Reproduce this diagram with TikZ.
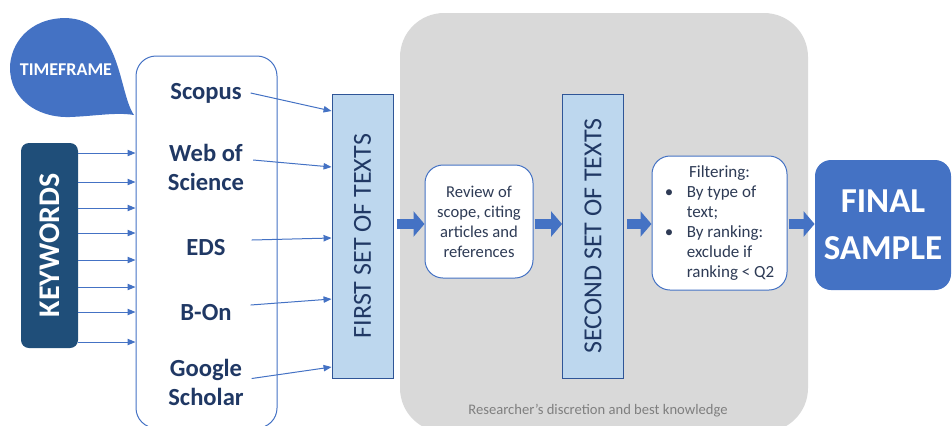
\documentclass[tikz,border=0pt]{standalone}
\usepackage{fontspec}
\setmainfont{Carlito}
\usepackage{xcolor}
\usepackage{graphicx}
\usepackage{tikz}
\usetikzlibrary{arrows.meta,positioning}

\definecolor{navy}{HTML}{203864}
\definecolor{darkblue}{HTML}{1F4E79}
\definecolor{medblue}{HTML}{4472C4}
\definecolor{setline}{HTML}{2F5597}
\definecolor{lightblue}{HTML}{BDD7EE}
\definecolor{bggray}{HTML}{D9D9D9}
\definecolor{notegray}{HTML}{7F7F7F}
\definecolor{steptext}{HTML}{2E3B55}

\tikzset{
  srcname/.style={text=navy, align=center, font=\fontsize{12.3}{14.5}\selectfont\bfseries},
  setbox/.style={draw=setline, fill=lightblue, line width=0.45pt, minimum width=30.5pt, minimum height=142pt, inner sep=0pt, text=navy, font=\fontsize{13}{15}\selectfont},
  stepbox/.style={draw=medblue, fill=white, line width=0.5pt, rounded corners=9pt, align=center, inner sep=0pt, text=steptext, font=\fontsize{8.3}{10}\selectfont},
  feed/.style={draw=medblue, line width=0.5pt, -{Triangle[length=4pt,width=3.2pt]}},
  bigarrow/.style={draw=medblue, line width=5pt, -{Triangle[length=5.5pt,width=12.5pt]}},
}

\begin{document}
\begin{tikzpicture}[x=0.5pt, y=-0.5pt]
\useasboundingbox (0,0) rectangle (952,425);
% background of the manual stage
\fill[bggray, rounded corners=22pt] (400,13) rectangle (808,432);
\node[text=notegray, font=\fontsize{7.3}{9}\selectfont] (note) at (598,411) {Researcher’s discretion and best knowledge};

% timeframe bubble
\fill[medblue] (134,115) .. controls (118,92) and (122,20) .. (66,18)
  .. controls (28,18) and (10,45) .. (10,68)
  .. controls (10,98) and (36,118) .. (70,117)
  .. controls (96,116) and (116,112) .. (134,115) -- cycle;
\node[text=white, font=\fontsize{9}{11}\selectfont\bfseries] (timeframe) at (66,70) {TIMEFRAME};

% keywords
\node[fill=darkblue, rounded corners=4pt, minimum width=28.5pt, minimum height=102.5pt, inner sep=0pt, text=white, font=\fontsize{15}{17}\selectfont\bfseries] (keywords) at (49.5,245.5) {\rotatebox{90}{KEYWORDS}};

% sources
\node[draw=medblue, line width=0.5pt, rounded corners=10pt, minimum width=70.5pt, minimum height=186pt] (sources) at (206.5,242) {};
\node[srcname] (scopus) at (206,93) {Scopus};
\node[srcname] (wos) at (206,167) {Web of\\Science};
\node[srcname] (eds) at (206,248) {EDS};
\node[srcname] (bon) at (206,313) {B-On};
\node[srcname] (google) at (206,382.5) {Google\\Scholar};

\foreach \y in {153,182,208,233,260,287,312,342}
  \draw[feed] (keywords.east |- 0,\y) -- (sources.west |- 0,\y);

% stages
\node[setbox] (first) at (362.5,236) {\rotatebox{90}{FIRST SET OF TEXTS}};
\node[stepbox, minimum width=54pt, minimum height=56.5pt] (review) at (479,221.5) {Review of\\scope, citing\\articles and\\references};
\node[setbox] (second) at (593,236) {\rotatebox{90}{SECOND SET OF TEXTS}};
\node[stepbox, minimum width=67.5pt, minimum height=67pt, font=\fontsize{8.5}{10}\selectfont] (filtering) at (719.5,223) {%
  \begin{tabular}{@{}p{11pt}@{}l@{}}
  \multicolumn{2}{c}{Filtering:}\\
  \textbullet & By type of\\
   & text;\\
  \textbullet & By ranking:\\
   & exclude if\\
   & ranking < Q2
  \end{tabular}};
\node[fill=medblue, rounded corners=8pt, minimum width=68pt, minimum height=65pt, align=center, text=white, font=\fontsize{17.5}{23.5}\selectfont\bfseries] (final) at (883,225) {FINAL\\SAMPLE};

% sources to first set
\draw[feed] ([xshift=1pt]scopus.east) -- (first.west |- 0,111);
\draw[feed] ([xshift=1pt,yshift=3.5pt]wos.east) -- (first.west |- 0,167);
\draw[feed] ([xshift=9.5pt,yshift=4pt]eds.east) -- (first.west |- 0,238);
\draw[feed] ([xshift=6pt,yshift=4pt]bon.east) -- (first.west |- 0,299);
\draw[feed] ([xshift=0.5pt,yshift=2pt]google.east) -- (first.west |- 0,367);

% block arrows
\draw[bigarrow, shorten <=2pt] (first.east |- 0,224) -- (review.west |- 0,224);
\draw[bigarrow, shorten <=0.5pt] (review.east |- 0,224) -- (second.west |- 0,224);
\draw[bigarrow, shorten <=1.5pt] (second.east |- 0,224) -- (filtering.west |- 0,224);
\draw[bigarrow, shorten <=0.5pt] (filtering.east |- 0,224) -- (final.west |- 0,224);
\end{tikzpicture}
\end{document}
